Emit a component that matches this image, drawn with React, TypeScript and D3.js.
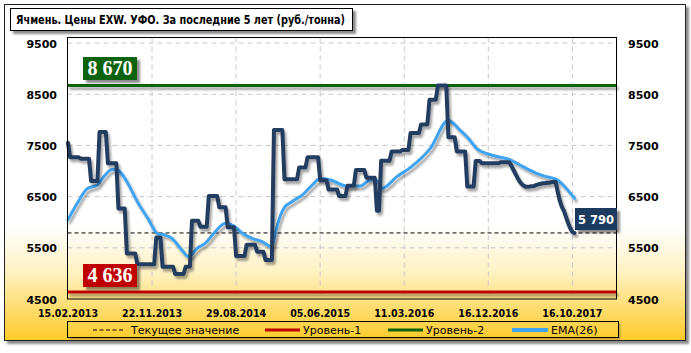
import React from 'react';
import * as d3 from 'd3';

const title = 'Ячмень. Цены EXW. УФО. За последние 5 лет (руб./тонна)';
const tickLabels = ['15.02.2013', '22.11.2013', '29.08.2014', '05.06.2015', '11.03.2016', '16.12.2016', '16.10.2017'];
const tickStep = 40;
const axisWeeks = 261;
const yTicks = [4500, 5500, 6500, 7500, 8500, 9500];
const level1 = 4636;
const level2 = 8670;
const current = 5790;
const legendLabels = ['Текущее значение', 'Уровень-1', 'Уровень-2', 'EMA(26)'];

// weekly prices (руб./тонна)
const price = [
  7550,
  7270, 7270, 7270, 7270, 7270, 7240, 7240, 7240, 7240, 7240,
  6805, 6805, 6805, 6805,
  7760, 7760, 7760, 7760,
  7150, 7150, 7150, 7150, 7150,
  6270, 6270, 6270, 6270,
  5390, 5390, 5390, 5390, 5390,
  5180, 5180, 5180, 5180, 5180, 5180, 5180, 5180, 5180,
  5700, 5700, 5700,
  5130, 5130, 5130, 5130, 5130, 5130,
  4990, 4990, 4990, 4990, 4990,
  5130, 5130, 5130,
  6030, 6030, 6030, 6030,
  5910, 5910, 5910, 5910,
  6510, 6510, 6510, 6510, 6510,
  6290, 6290, 6290, 6290,
  5900, 5900, 5900, 5900,
  5340, 5340, 5340, 5340, 5340,
  5560, 5560, 5560, 5560, 5560,
  5425, 5425, 5425, 5425,
  5260, 5260, 5260, 5260,
  7800, 7800, 7800, 7800, 7800,
  6840, 6840, 6840, 6840, 6840, 6840, 6840,
  7070, 7070, 7070, 7070,
  7270, 7270, 7270, 7270, 7270, 7270,
  6820, 6820, 6820, 6820,
  6640, 6640, 6640, 6640, 6640,
  6510, 6510, 6510, 6510,
  6710, 6710, 6710, 6710,
  7020, 7020, 7020, 7020, 7020,
  6870, 6870, 6870, 6870, 6870,
  6225, 6225,
  7200, 7200, 7200, 7200, 7200,
  7380, 7380, 7380, 7380, 7380,
  7410, 7410, 7410, 7410,
  7740, 7740, 7740, 7740, 7740,
  7910, 7910, 7910, 7910,
  8390, 8390, 8390, 8390,
  8670, 8670, 8670, 8670, 8670,
  7660, 7660, 7660, 7660,
  7380, 7380, 7380, 7380, 7380,
  6695, 6695, 6695, 6695,
  7195, 7195, 7195,
  7150, 7150, 7150, 7150, 7150, 7150, 7150, 7150, 7150,
  7170, 7170, 7170, 7170, 7170,
  7100, 7020, 6940, 6860, 6790, 6740, 6710, 6690, 6690, 6700,
  6700, 6710, 6730, 6740, 6750, 6760, 6760, 6770, 6770, 6780,
  6790, 6790, 6600, 6420, 6300, 6220, 6100, 5980, 5880, 5810,
  5790,
];

// EMA(26) read at sample weeks
const emaWeek = [0, 4.4, 9.2, 14, 17, 21, 24, 28, 33, 38, 42.5, 46, 49.5, 53.5, 57.5, 61.4, 65.4, 69.4, 75, 79, 83, 87.6, 92.4, 97, 99, 101, 103, 106.5, 112, 117, 120, 125, 132.7, 139, 143.8, 147, 149.4, 156.5, 163, 172.4, 181, 185.7, 190.5, 194.4, 200, 205.7, 210, 216.5, 222.9, 227.6, 232.4, 235.6, 241];
const emaValue = [6050, 6370, 6660, 6727, 6890, 7030, 7010, 6790, 6400, 6075, 5783, 5750, 5685, 5490, 5326, 5490, 5590, 5783, 5978, 5925, 5783, 5685, 5620, 5520, 5844, 6120, 6290, 6400, 6550, 6760, 6857, 6824, 6707, 6707, 6824, 6810, 6660, 6890, 7072, 7443, 7990, 7834, 7639, 7443, 7332, 7267, 7228, 7084, 6955, 6890, 6838, 6727, 6467];

const W = 691;
const H = 353;
const PL = 67.5, PR = 616.5, PT = 37.5, PB = 299;

export default function App() {
  const x = d3.scaleLinear().domain([0, axisWeeks]).range([68, 616.5]);
  const y = d3.scaleLinear().domain([4500, 9500]).range([299, 43]);

  const priceLine = d3.line<number>().x((_, i) => x(i)).y((d) => y(d));
  const emaPts = emaWeek.map((w, i) => [w, emaValue[i]] as [number, number]);
  const emaLine = d3.line<[number, number]>().x((d) => x(d[0])).y((d) => y(d[1])).curve(d3.curveMonotoneX);

  const tickIdx = tickLabels.map((_, i) => i * tickStep);
  const sans = 'DejaVu Sans, Verdana, sans-serif';
  const navy = '#243C5E';
  const blue = '#3FA3F2';
  const green = '#0B640B';
  const red = '#C00000';

  const lastI = price.length - 1;

  const legendY = 330;
  const legendSamples = [
    { x1: 93, x2: 125, tx: 131, color: '#000', w: 1, dash: '4,2.5' },
    { x1: 265, x2: 300, tx: 303, color: red, w: 3, dash: undefined },
    { x1: 388, x2: 423, tx: 426, color: green, w: 3, dash: undefined },
    { x1: 512, x2: 548, tx: 551, color: blue, w: 4, dash: undefined },
  ];

  return (
    <svg width={W} height={H} style={{ position: 'absolute', left: 0, top: 0, background: '#fff' }} fontFamily={sans}>
      <defs>
        <linearGradient id="bg" gradientUnits="userSpaceOnUse" x1="0" y1="4" x2="0" y2="341">
          <stop offset="0" stopColor="#ffffff" />
          <stop offset="0.66" stopColor="#ffffff" />
          <stop offset="0.8" stopColor="#FFF1C0" />
          <stop offset="0.9" stopColor="#FFDD70" />
          <stop offset="1" stopColor="#FFC928" />
        </linearGradient>
        <filter id="sh" filterUnits="userSpaceOnUse" x="0" y="0" width={W} height={H}>
          <feDropShadow dx="2" dy="3" stdDeviation="1.2" floodColor="#000" floodOpacity="0.35" />
        </filter>
        <filter id="shBox" filterUnits="userSpaceOnUse" x="0" y="0" width={W} height={H}>
          <feDropShadow dx="3" dy="3" stdDeviation="1.2" floodColor="#000" floodOpacity="0.45" />
        </filter>
      </defs>

      {/* outer frame */}
      <rect x={4.5} y={4.5} width={681} height={336} fill="url(#bg)" stroke="#222" strokeWidth={1} filter="url(#shBox)" />

      {/* title */}
      <rect x={10.5} y={8.5} width={342} height={22} fill="#fff" stroke="#000" strokeWidth={1} filter="url(#shBox)" />
      <text x={16} y={24} fontSize={11.5} fontWeight="bold" fill="#000" textLength={329} lengthAdjust="spacingAndGlyphs">{title}</text>

      {/* grid */}
      {yTicks.filter((v) => v > 4500).map((v) => (
        <line key={'h' + v} x1={PL} x2={PR} y1={y(v)} y2={y(v)} stroke="#C8C8C8" strokeWidth={1} strokeDasharray="5,4" />
      ))}
      {tickIdx.filter((i) => i > 0).map((i) => (
        <line key={'v' + i} x1={x(i)} x2={x(i)} y1={PT} y2={PB} stroke="#C8C8C8" strokeWidth={1} strokeDasharray="5,4" />
      ))}

      {/* levels */}
      <line x1={PL} x2={PR} y1={y(level2)} y2={y(level2)} stroke={green} strokeWidth={3} filter="url(#sh)" />
      <line x1={PL} x2={PR} y1={y(level1)} y2={y(level1)} stroke={red} strokeWidth={3} filter="url(#sh)" />
      <line x1={PL} x2={PR} y1={y(current)} y2={y(current)} stroke="#000" strokeWidth={1} strokeDasharray="4,3" />

      {/* EMA */}
      <path d={emaLine(emaPts) || ''} fill="none" stroke={blue} strokeWidth={3} strokeLinejoin="round" strokeLinecap="round" filter="url(#sh)" />
      {/* price */}
      <path d={priceLine(price) || ''} fill="none" stroke={navy} strokeWidth={4} strokeLinejoin="round" strokeLinecap="round" filter="url(#sh)" />

      {/* plot frame */}
      <rect x={PL} y={PT} width={PR - PL} height={PB - PT} fill="none" stroke="#000" strokeWidth={1} />

      {/* level labels */}
      <g filter="url(#shBox)">
        <rect x={83} y={57} width={54} height={23} fill={green} />
        <rect x={83} y={264} width={54} height={23} fill={red} />
        <rect x={575} y={208} width={42} height={22} fill="#1E3A5F" />
      </g>
      <text x={110} y={75} textAnchor="middle" fontFamily="Liberation Serif, Times New Roman, serif" fontWeight="bold" fontSize={20} fill="#fff">{d3.format(',')(level2).replace(',', ' ')}</text>
      <text x={110} y={282} textAnchor="middle" fontFamily="Liberation Serif, Times New Roman, serif" fontWeight="bold" fontSize={20} fill="#fff">{d3.format(',')(level1).replace(',', ' ')}</text>
      <text x={596} y={223.5} textAnchor="middle" fontWeight="bold" fontSize={11.5} fill="#fff">{d3.format(',')(price[lastI]).replace(',', ' ')}</text>

      {/* y labels */}
      {yTicks.map((v) => (
        <g key={'yl' + v}>
          <text x={57} y={y(v) + 4.5} textAnchor="end" fontSize={11} fontWeight="bold" fill="#000">{v}</text>
          <text x={628} y={y(v) + 4.5} textAnchor="start" fontSize={11} fontWeight="bold" fill="#000">{v}</text>
        </g>
      ))}

      {/* x labels */}
      {tickLabels.map((t, k) => (
        <text key={t} x={x(tickIdx[k]) - 30} y={317} fontSize={11} fontWeight="bold" fill="#000" textLength={60} lengthAdjust="spacingAndGlyphs">{t}</text>
      ))}

      {/* legend */}
      <rect x={69.5} y={323.5} width={551} height={16} fill="#8a7a40" opacity={0.5} />
      <rect x={67.5} y={321.5} width={551} height={16} fill="url(#bg)" stroke="#000" strokeWidth={1} />
      {legendSamples.map((s, k) => (
        <g key={'lg' + k}>
          <line x1={s.x1} x2={s.x2} y1={legendY} y2={legendY} stroke={s.color} strokeWidth={s.w} strokeDasharray={s.dash} />
          <text x={s.tx} y={legendY + 4} fontSize={11} fill="#000">{legendLabels[k]}</text>
        </g>
      ))}
    </svg>
  );
}
